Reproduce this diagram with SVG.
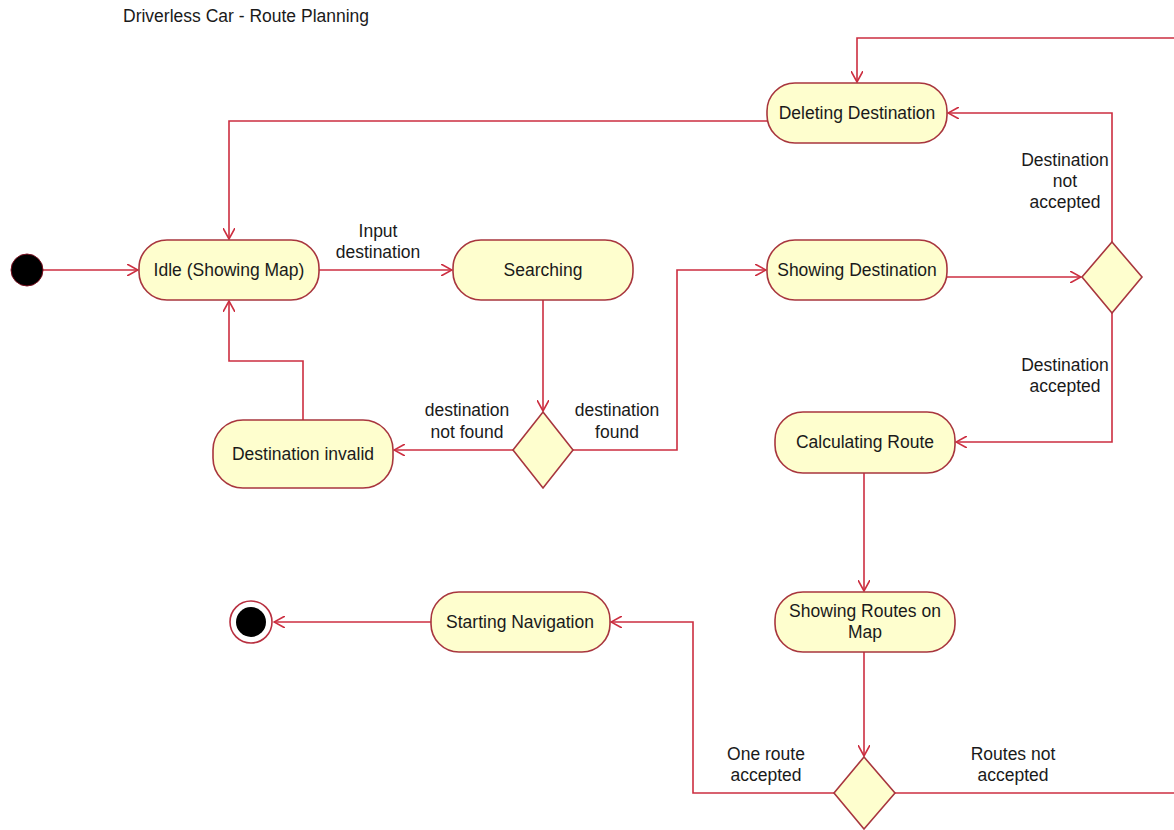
<svg xmlns="http://www.w3.org/2000/svg" width="1174" height="830" viewBox="0 0 1174 830">
<defs>
<style>
.t{font-family:"Liberation Sans",Arial,sans-serif;font-size:17.5px;fill:#1a1a1a;text-anchor:middle}
.title{font-family:"Liberation Sans",Arial,sans-serif;font-size:17.5px;fill:#1a1a1a}
.n{fill:#FEFECE;stroke:#A8363E;stroke-width:1.6}
.e{fill:none;stroke:#CC2E40;stroke-width:1.6;marker-end:url(#a)}
.e2{fill:none;stroke:#CC2E40;stroke-width:1.6}
</style>
<marker id="a" viewBox="0 0 12 12" refX="11" refY="6" markerWidth="12" markerHeight="12" markerUnits="userSpaceOnUse" orient="auto">
<path d="M0,0 L11,6 L0,12" fill="none" stroke="#CC2E40" stroke-width="1.6"/>
</marker>
</defs>
<rect width="1174" height="830" fill="#ffffff"/>
<text class="title" x="123" y="22">Driverless Car - Route Planning</text>

<g id="connectors">
<path class="e" d="M43,270 L138,270"/>
<path class="e" d="M319,270 L452,270"/>
<path class="e" d="M543,300 L543,411"/>
<path class="e" d="M513,450 L394,450"/>
<path class="e" d="M303,420 L303,361 L229,361 L229,301"/>
<path class="e" d="M573,450 L677,450 L677,270 L766,270"/>
<path class="e" d="M947,277 L1081,277"/>
<path class="e" d="M1112,242 L1112,113 L948,113"/>
<path class="e" d="M767,121 L229,121 L229,239"/>
<path class="e" d="M1180,38 L857,38 L857,82"/>
<path class="e" d="M1112,313 L1112,442 L956,442"/>
<path class="e" d="M864,473 L864,591"/>
<path class="e" d="M864,652 L864,756"/>
<path class="e" d="M834,793 L693,793 L693,622 L611,622"/>
<path class="e" d="M431,622 L274,622"/>
<path class="e2" d="M895,793 L1180,793"/>
</g>

<g id="labels">
<text class="t" x="378" y="237">Input</text>
<text class="t" x="378" y="258">destination</text>
<text class="t" x="467" y="416">destination</text>
<text class="t" x="467" y="438">not found</text>
<text class="t" x="617" y="416">destination</text>
<text class="t" x="617" y="438">found</text>
<text class="t" x="1065" y="166">Destination</text>
<text class="t" x="1065" y="187">not</text>
<text class="t" x="1065" y="208">accepted</text>
<text class="t" x="1065" y="371">Destination</text>
<text class="t" x="1065" y="392">accepted</text>
<text class="t" x="766" y="760">One route</text>
<text class="t" x="766" y="781">accepted</text>
<text class="t" x="1013" y="760">Routes not</text>
<text class="t" x="1013" y="781">accepted</text>
</g>

<g id="start">
<circle cx="27" cy="270" r="16" fill="#000000" stroke="#7a1020" stroke-width="1"/>
</g>

<g id="idle">
<rect class="n" x="139" y="240" width="180" height="60" rx="28"/>
<text class="t" x="229" y="276">Idle (Showing Map)</text>
</g>

<g id="searching">
<rect class="n" x="453" y="240" width="180" height="60" rx="28"/>
<text class="t" x="543" y="276">Searching</text>
</g>

<g id="decision1">
<polygon class="n" points="543,412 573,450 543,488 513,450"/>
</g>

<g id="invalid">
<rect class="n" x="213" y="420" width="180" height="68" rx="30"/>
<text class="t" x="303" y="460">Destination invalid</text>
</g>

<g id="showingDest">
<rect class="n" x="767" y="240" width="180" height="60" rx="28"/>
<text class="t" x="857" y="276">Showing Destination</text>
</g>

<g id="decision2">
<polygon class="n" points="1112,242 1142,277 1112,313 1082,277"/>
</g>

<g id="deleting">
<rect class="n" x="767" y="83" width="180" height="60" rx="28"/>
<text class="t" x="857" y="119">Deleting Destination</text>
</g>

<g id="calculating">
<rect class="n" x="775" y="412" width="180" height="61" rx="28"/>
<text class="t" x="865" y="448">Calculating Route</text>
</g>

<g id="showingRoutes">
<rect class="n" x="775" y="592" width="180" height="60" rx="28"/>
<text class="t" x="865" y="617">Showing Routes on</text>
<text class="t" x="865" y="638">Map</text>
</g>

<g id="decision3">
<polygon class="n" points="864,757 895,793 864,829 834,793"/>
</g>

<g id="startingNav">
<rect class="n" x="431" y="592" width="179" height="60" rx="28"/>
<text class="t" x="520" y="628">Starting Navigation</text>
</g>

<g id="end">
<circle cx="251" cy="622" r="21" fill="#ffffff" stroke="#B83040" stroke-width="1.6"/>
<circle cx="251" cy="622" r="15" fill="#000000"/>
</g>
</svg>
